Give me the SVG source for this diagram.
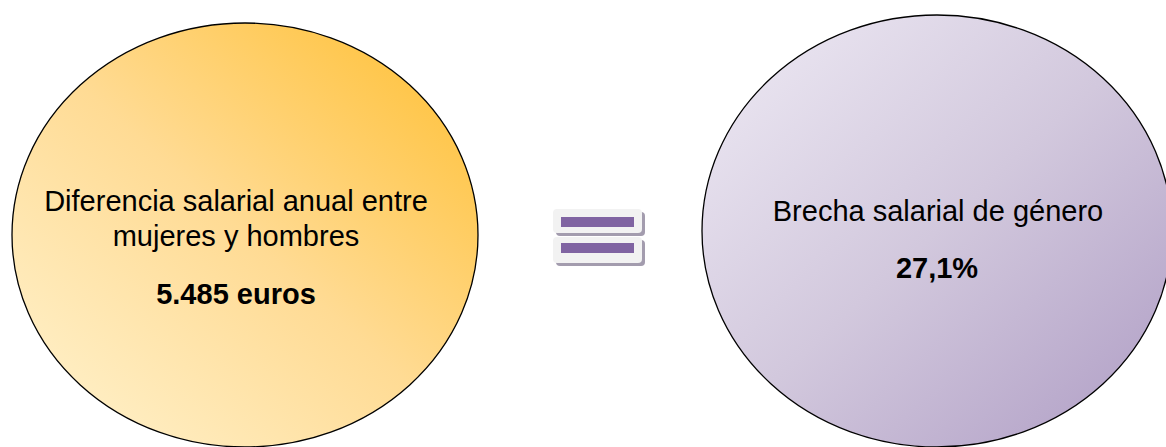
<svg xmlns="http://www.w3.org/2000/svg" width="1166" height="447" viewBox="0 0 1166 447">
  <style>
    .lbl { font-family: "Liberation Sans", Arial, sans-serif; font-size: 29px; fill: #000; text-anchor: middle; }
    .big { font-weight: bold; }
    .ring { stroke: #000; stroke-width: 1.3; }
    .eqbox { fill: #F2F2F2; }
    .eqshadow { fill: #A39CAE; }
    .eqbar { fill: #8064A2; }
  </style>
  <defs>
    <linearGradient id="gold" x1="1" y1="0" x2="0" y2="1">
      <stop offset="0" stop-color="#FFBE2E"/>
      <stop offset="0.5" stop-color="#FFDB94"/>
      <stop offset="1" stop-color="#FFF4D2"/>
    </linearGradient>
    <linearGradient id="lilac" x1="0" y1="0" x2="1" y2="1">
      <stop offset="0" stop-color="#EFEBF5"/>
      <stop offset="0.5" stop-color="#D2C8DD"/>
      <stop offset="1" stop-color="#AE9CC4"/>
    </linearGradient>
  </defs>

  <g id="diferencia">
    <ellipse class="ring" cx="245" cy="235" rx="233" ry="212" fill="url(#gold)"/>
    <text class="lbl" x="236" y="211">Diferencia salarial anual entre</text>
    <text class="lbl" x="236" y="246">mujeres y hombres</text>
    <text class="lbl big" x="236" y="304">5.485 euros</text>
  </g>

  <g id="igual">
    <rect class="eqshadow" x="556" y="212" width="89" height="24" rx="4"/>
    <rect class="eqbox" x="553" y="209" width="89" height="24" rx="4"/>
    <rect class="eqbar" x="561" y="217" width="73" height="10"/>
    <rect class="eqshadow" x="556" y="240" width="89" height="26" rx="4"/>
    <rect class="eqbox" x="553" y="237" width="89" height="26" rx="4"/>
    <rect class="eqbar" x="561" y="243" width="73" height="10"/>
  </g>

  <g id="brecha">
    <ellipse class="ring" cx="937" cy="231" rx="235" ry="216" fill="url(#lilac)"/>
    <text class="lbl" x="938" y="221">Brecha salarial de género</text>
    <text class="lbl big" x="937" y="278">27,1%</text>
  </g>

  <g id="connectors"></g>
</svg>
